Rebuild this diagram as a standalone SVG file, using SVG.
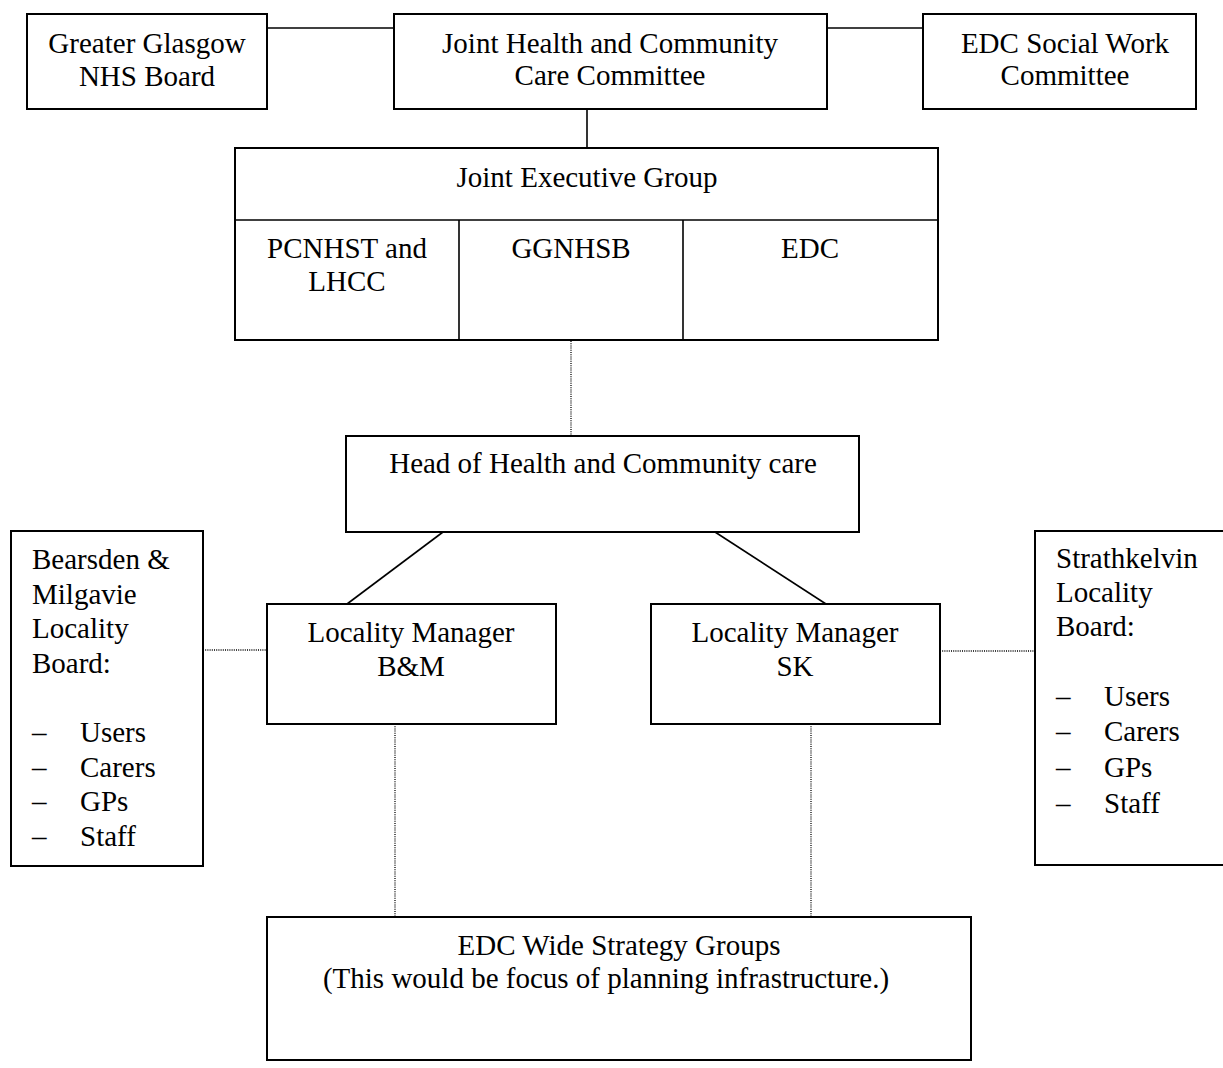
<svg xmlns="http://www.w3.org/2000/svg" width="1223" height="1068" viewBox="0 0 1223 1068">
<style>
  .box { fill: #ffffff; stroke: #000000; stroke-width: 2; }
  .div { fill: none; stroke: #000000; stroke-width: 1.6; }
  .solid { fill: none; stroke: #000000; stroke-width: 1.6; }
  .dot { fill: none; stroke: #000000; stroke-width: 1.3; stroke-dasharray: 1 1.2; }
  text { font-family: "Liberation Serif", "Times New Roman", serif; font-size: 29px; fill: #000000; }
  .c { text-anchor: middle; }
</style>
<rect width="1223" height="1068" fill="#ffffff"/>
<g id="connectors">
  <line class="solid" x1="267" y1="28" x2="394" y2="28"/>
  <line class="solid" x1="827" y1="28" x2="923" y2="28"/>
  <line class="solid" x1="587" y1="109" x2="587" y2="148"/>
  <line class="dot" x1="571" y1="341" x2="571" y2="436"/>
  <line class="solid" x1="443" y1="532" x2="347" y2="604"/>
  <line class="solid" x1="715" y1="532" x2="826" y2="604"/>
  <line class="dot" x1="203" y1="650" x2="267" y2="650"/>
  <line class="dot" x1="940" y1="651" x2="1035" y2="651"/>
  <line class="dot" x1="395" y1="724" x2="395" y2="917"/>
  <line class="dot" x1="811" y1="724" x2="811" y2="917"/>
</g>
<g id="nhs-board">
  <rect class="box" x="27" y="14" width="240" height="95"/>
  <text class="c" x="147" y="53">Greater Glasgow</text>
  <text class="c" x="147" y="86">NHS Board</text>
</g>
<g id="joint-committee">
  <rect class="box" x="394" y="14" width="433" height="95"/>
  <text class="c" x="610" y="53">Joint Health and Community</text>
  <text class="c" x="610" y="85">Care Committee</text>
</g>
<g id="social-work">
  <rect class="box" x="923" y="14" width="273" height="95"/>
  <text class="c" x="1065" y="53">EDC Social Work</text>
  <text class="c" x="1065" y="85">Committee</text>
</g>
<g id="joint-executive">
  <rect class="box" x="235" y="148" width="703" height="192"/>
  <line class="div" x1="235" y1="220" x2="938" y2="220"/>
  <line class="div" x1="459" y1="220" x2="459" y2="340"/>
  <line class="div" x1="683" y1="220" x2="683" y2="340"/>
  <text class="c" x="587" y="187">Joint Executive Group</text>
  <text class="c" x="347" y="258">PCNHST and</text>
  <text class="c" x="347" y="291">LHCC</text>
  <text class="c" x="571" y="258">GGNHSB</text>
  <text class="c" x="810" y="258">EDC</text>
</g>
<g id="head">
  <rect class="box" x="346" y="436" width="513" height="96"/>
  <text class="c" x="603" y="473">Head of Health and Community care</text>
</g>
<g id="lm-bm">
  <rect class="box" x="267" y="604" width="289" height="120"/>
  <text class="c" x="411" y="642">Locality Manager</text>
  <text class="c" x="411" y="676">B&amp;M</text>
</g>
<g id="lm-sk">
  <rect class="box" x="651" y="604" width="289" height="120"/>
  <text class="c" x="795" y="642">Locality Manager</text>
  <text class="c" x="795" y="676">SK</text>
</g>
<g id="bm-board">
  <rect class="box" x="11" y="531" width="192" height="335"/>
  <text x="32" y="569">Bearsden &amp;</text>
  <text x="32" y="604">Milgavie</text>
  <text x="32" y="638">Locality</text>
  <text x="32" y="673">Board:</text>
  <text x="32" y="742">–</text><text x="80" y="742">Users</text>
  <text x="32" y="777">–</text><text x="80" y="777">Carers</text>
  <text x="32" y="811">–</text><text x="80" y="811">GPs</text>
  <text x="32" y="846">–</text><text x="80" y="846">Staff</text>
</g>
<g id="sk-board">
  <rect class="box" x="1035" y="531" width="200" height="334"/>
  <text x="1056" y="568">Strathkelvin</text>
  <text x="1056" y="602">Locality</text>
  <text x="1056" y="636">Board:</text>
  <text x="1056" y="706">–</text><text x="1104" y="706">Users</text>
  <text x="1056" y="741">–</text><text x="1104" y="741">Carers</text>
  <text x="1056" y="777">–</text><text x="1104" y="777">GPs</text>
  <text x="1056" y="813">–</text><text x="1104" y="813">Staff</text>
</g>
<g id="strategy-groups">
  <rect class="box" x="267" y="917" width="704" height="143"/>
  <text class="c" x="619" y="955">EDC Wide Strategy Groups</text>
  <text class="c" x="606" y="988">(This would be focus of planning infrastructure.)</text>
</g>
</svg>
